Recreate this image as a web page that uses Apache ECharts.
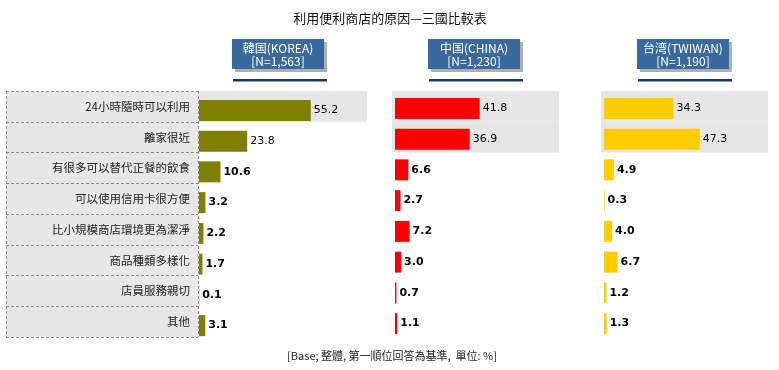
<!DOCTYPE html>
<html><head><meta charset="utf-8">
<script src="https://cdn.jsdelivr.net/npm/echarts@6/dist/echarts.min.js"></script>
<style>html,body{margin:0;padding:0;background:#fff}#c{width:779px;height:370px}</style>
</head><body><div id="c"></div>
<script>
var categories = ['24小時隨時可以利用','離家很近','有很多可以替代正餐的飲食','可以使用信用卡很方便','比小規模商店環境更為潔淨','商品種類多樣化','店員服務親切','其他'];
var korea  = [55.2, 23.8, 10.6, 3.2, 2.2, 1.7, 0.1, 3.1];
var china  = [41.8, 36.9, 6.6, 2.7, 7.2, 3.0, 0.7, 1.1];
var taiwan = [34.3, 47.3, 4.9, 0.3, 4.0, 6.7, 1.2, 1.3];
var koreaHighlight  = [1, 0, 0, 0, 0, 0, 0, 0];
var chinaHighlight  = [1, 1, 0, 0, 0, 0, 0, 0];
var taiwanHighlight = [1, 1, 0, 0, 0, 0, 0, 0];
var headers = [['韓国(KOREA)','[N=1,563]'],['中国(CHINA)','[N=1,230]'],['台湾(TWIWAN)','[N=1,190]']];
var title = '利用便利商店的原因—三國比較表';
var footnote = '[Base; 整體, 第一順位回答為基準,  單位: %]';

var chart = echarts.init(document.getElementById('c'));
var rowTop = 91, rowH = 246;
var grids = [
  {left:6, top:rowTop, width:192, height:rowH},
  {left:199, top:rowTop, width:168, height:rowH},
  {left:199, top:95, width:162, height:rowH},
  {left:392, top:rowTop, width:167, height:rowH},
  {left:395, top:93, width:162, height:rowH},
  {left:601, top:rowTop, width:167, height:rowH},
  {left:604, top:93, width:162, height:rowH}
];
var dash = {color:'#8c8c8c', type:[3,2], width:1};
var xAxes = [], yAxes = [];
grids.forEach(function(g, i){
  var isTable = i === 0;
  var isBand = (i === 1 || i === 3 || i === 5);
  xAxes.push({gridIndex:i, type:'value', min:0, max:(isTable||isBand)?1:80, interval:isTable?1:undefined,
    axisLine:{show:false}, axisTick:{show:false}, axisLabel:{show:false},
    splitLine:{show:isTable, lineStyle:dash}});
  yAxes.push({gridIndex:i, type:'category', data:categories, inverse:true,
    position: isTable ? 'right' : 'left',
    axisLine:{show:false}, axisTick:{show:false},
    axisLabel: isTable ? {show:true, inside:true, margin:8, color:'#222', fontSize:11.5,
      fontFamily:'"Noto Sans CJK TC", sans-serif'} : {show:false},
    splitLine:{show:isTable, lineStyle:dash},
    splitArea:{show:isTable, areaStyle:{color:['#e8e8e8']}}
  });
});
function labelFmt(){
  return {show:true, position:'right', distance:3, color:'#000', fontSize:11,
    fontFamily:'"DejaVu Sans", Verdana, sans-serif',
    formatter:function(p){return p.value.toFixed(1);},
    fontWeight:'bold'};
}
function bandSeries(idx, arr){
  return {type:'bar', xAxisIndex:idx, yAxisIndex:idx, barWidth:'100%', silent:true,
    itemStyle:{color:'#e6e6e6'}, data:arr.map(function(v){return v ? v : '-';})};
}
function valSeries(idx, arr, color){
  return {type:'bar', xAxisIndex:idx, yAxisIndex:idx, barWidth:21, itemStyle:{color:color},
    data:arr.map(function(v, k){ return {value:v, label:{fontWeight: k < 2 ? 'normal' : 'bold'}}; }),
    label:labelFmt()};
}
var series = [
  {type:'bar', xAxisIndex:0, yAxisIndex:0, data:[], silent:true},
  bandSeries(1, koreaHighlight),
  valSeries(2, korea, '#808000'),
  bandSeries(3, chinaHighlight),
  valSeries(4, china, '#ff0000'),
  bandSeries(5, taiwanHighlight),
  valSeries(6, taiwan, '#ffcc00')
];
var graphics = [];
headers.forEach(function(h, i){
  var x0 = [232, 428, 637][i], w = 92;
  graphics.push({type:'rect', shape:{x:x0+3, y:42, width:w, height:30}, style:{fill:'#b0b0b0'}, silent:true});
  graphics.push({type:'rect', shape:{x:x0, y:39, width:w, height:30}, style:{fill:'#3a6a9c'}, silent:true});
  graphics.push({type:'text', x:x0+w/2, y:48, style:{text:h[0], fill:'#fff', font:'12px "Noto Sans CJK TC", sans-serif', textAlign:'center', textVerticalAlign:'middle'}});
  graphics.push({type:'text', x:x0+w/2, y:61, style:{text:h[1], fill:'#fff', font:'12px "Noto Sans CJK TC", sans-serif', textAlign:'center', textVerticalAlign:'middle'}});
  graphics.push({type:'rect', shape:{x:x0+1, y:79, width:w+2, height:2.5}, style:{fill:'#17375e'}, silent:true});
});
graphics.push({type:'text', x:390, y:18, style:{text:title, fill:'#111', font:'13px "Noto Sans CJK TC", sans-serif', textAlign:'center', textVerticalAlign:'middle'}});
graphics.push({type:'text', x:392, y:356, style:{text:footnote, fill:'#222', font:'11px "Noto Sans CJK TC", sans-serif', textAlign:'center', textVerticalAlign:'middle'}});

chart.setOption({
  animation:false,
  grid:grids, xAxis:xAxes, yAxis:yAxes, series:series, graphic:graphics
});
</script>
</body></html>
